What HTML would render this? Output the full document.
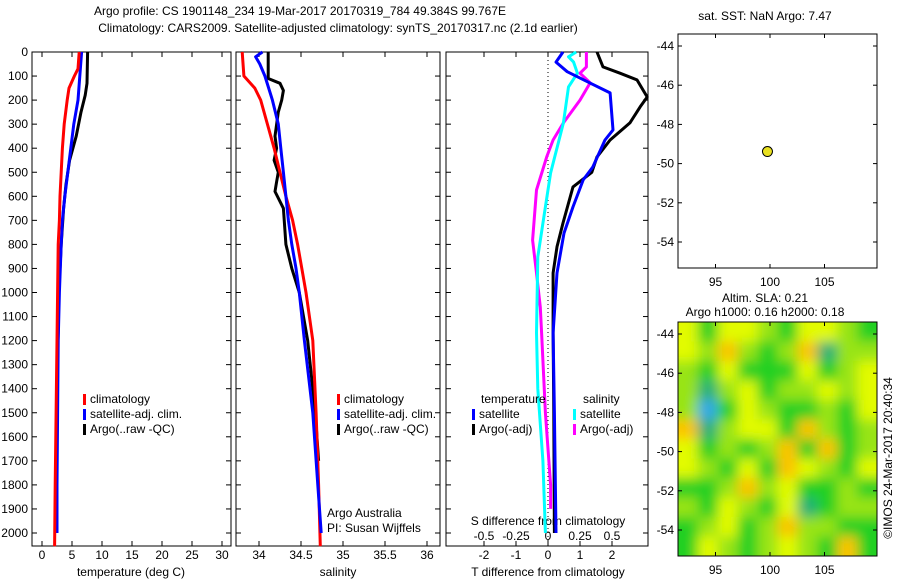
<!DOCTYPE html>
<html><head><meta charset="utf-8">
<style>
html,body{margin:0;padding:0;background:#fff;}
svg{display:block;font-family:"Liberation Sans",sans-serif;}
text{font-size:12px;fill:#000;}
</style></head>
<body>
<svg id="c" width="900" height="580" viewBox="0 0 900 580" xmlns="http://www.w3.org/2000/svg">
<text x="300" y="15" text-anchor="middle">Argo profile: CS 1901148_234 19-Mar-2017 20170319_784 49.384S 99.767E</text>
<text x="338" y="32" text-anchor="middle">Climatology: CARS2009. Satellite-adjusted climatology: synTS_20170317.nc (2.1d earlier)</text>
<text x="765" y="20" text-anchor="middle">sat. SST: NaN Argo: 7.47</text>
<text x="765" y="302" text-anchor="middle">Altim. SLA: 0.21</text>
<text x="765" y="316" text-anchor="middle">Argo h1000: 0.16 h2000: 0.18</text>
<text transform="translate(892,458) rotate(-90)" text-anchor="middle">©IMOS 24-Mar-2017 20:40:34</text>
<g id="g"></g>
</svg>
<script>
// ---------- data ----------
const depthTicks=[0,100,200,300,400,500,600,700,800,900,1000,1100,1200,1300,1400,1500,1600,1700,1800,1900,2000];
const tempTicks=[0,5,10,15,20,25,30];
const salTicks=[34,34.5,35,35.5,36];
const tdiffTicks=[-2,-1,0,1,2];
const sdiffTicks=[-0.5,-0.25,0,0.25,0.5];
const sdiffTickLabels=["-0.5","-0.25","0","0.25","0.5"];
const lonTicks=[95,100,105];
const latTicks=[-44,-46,-48,-50,-52,-54];

const tClimDepth=[0,70,100,150,200,300,400,500,600,700,800,1000,1200,1400,1600,1800,2055];
const tClim=[6.2,6.0,5.4,4.5,4.2,3.7,3.4,3.2,3.0,2.9,2.7,2.6,2.5,2.4,2.3,2.2,2.1];
const tSatDepth=[0,200,300,400,500,600,700,800,1000,1200,1500,1800,2000];
const tSat=[6.6,6.0,5.3,4.8,4.3,3.8,3.4,3.2,2.9,2.7,2.6,2.5,2.5];
const tArgoDepth=[0,130,180,250,350,450,550,650,800,1000,1300,1600,2000];
const tArgo=[7.6,7.5,7.2,6.5,5.7,4.6,4.0,3.6,3.2,2.8,2.6,2.4,2.3];

const sClimDepth=[0,100,150,200,300,400,500,600,700,800,900,1000,1200,1500,1800,2055];
const sClim=[33.80,33.82,33.95,34.02,34.10,34.18,34.25,34.32,34.40,34.46,34.51,34.56,34.64,34.68,34.71,34.73];
const sSatDepth=[0,20,50,100,200,300,400,500,600,700,800,900,1000,1200,1500,1800,2000];
const sSat=[34.04,33.96,34.01,34.07,34.16,34.23,34.26,34.29,34.32,34.35,34.39,34.44,34.48,34.54,34.64,34.70,34.74];
const sArgoDepth=[0,110,130,160,200,250,350,400,450,500,540,580,650,800,900,1000,1200,1500,1700];
const sArgo=[34.11,34.11,34.25,34.29,34.27,34.23,34.19,34.21,34.18,34.23,34.21,34.19,34.29,34.32,34.39,34.48,34.58,34.67,34.71];

const dtSatDepth=[0,42,82,128,170,324,366,478,532,644,753,919,1168,1500,2000];
const dtSat=[0.47,0.25,0.6,1.3,1.94,2.03,1.78,1.4,1.1,0.78,0.5,0.28,0.16,0.2,0.25];
const dtArgoDepth=[0,62,88,116,187,228,295,366,436,500,561,711,810,919,1168,1500,2000];
const dtArgo=[1.53,1.72,2.25,2.78,3.1,2.88,2.56,1.94,1.53,1.37,0.78,0.47,0.28,0.16,0.16,0.18,0.2];
const dsSatDepth=[0,20,42,88,145,295,503,644,852,1168,1400,1700,2000];
const dsSat=[0.22,0.16,0.2,0.23,0.16,0.12,0.02,-0.02,-0.08,-0.09,-0.08,-0.04,-0.02];
const dsArgoDepth=[0,62,88,128,200,295,366,436,574,782,919,1061,1168,1500,1800,1900];
const dsArgo=[0.3,0.3,0.25,0.33,0.25,0.12,0.04,-0.01,-0.09,-0.12,-0.09,-0.06,-0.05,-0.02,0.02,0.02];

const argoLon=[99.767];
const argoLat=[-49.384];
// SLA map coarse field (0=blue ... 5=orange), rows north->south
const slaGrid=[
[4,2,4,4,3,2,4,4,3,2],
[4,3,5,3,2,3,5,1,3,3],
[3,2,4,2,2,2,4,2,3,4],
[3,1,3,4,2,3,3,4,3,4],
[3,0,2,4,3,2,2,3,2,4],
[5,1,3,4,4,2,5,3,2,3],
[4,2,3,2,3,5,2,5,2,3],
[4,3,2,4,2,5,4,3,2,4],
[2,2,3,5,3,4,2,2,3,2],
[3,2,4,3,2,4,1,2,3,3],
[2,3,4,2,3,5,3,3,2,2],
[2,4,3,2,3,4,3,2,5,2]];
const slaColors=["#30a8e8","#20b078","#22d022","#98e412","#e2fb00","#fcc400"];

// ---------- drawing ----------
const NS="http://www.w3.org/2000/svg";
const G=document.getElementById('g');
function mk(tag,attrs,parent){const e=document.createElementNS(NS,tag);for(const k in attrs)e.setAttribute(k,attrs[k]);(parent||G).appendChild(e);return e;}
const yD=d=>52+d*0.2405;
const TOP=52,BOT=546;
const panels=[
 {name:'temperature-panel',l:32,r:231,x:v=>42+v*6},
 {name:'salinity-panel',l:236,r:440,x:v=>259+(v-34)*84},
 {name:'difference-panel',l:446,r:648,x:v=>548+v*32}
];
const xS=v=>548+v*128;

panels.forEach((p,i)=>{
 const b=mk('rect',{x:p.l,y:TOP,width:p.r-p.l,height:BOT-TOP,fill:'none',stroke:'#000','stroke-width':1});
 
 
 depthTicks.forEach(d=>{
  const y=yD(d);
  mk('line',{x1:p.l,x2:p.l+5,y1:y,y2:y,stroke:'#000'});
  mk('line',{x1:p.r-5,x2:p.r,y1:y,y2:y,stroke:'#000'});
  if(i===0){const t=mk('text',{x:28,y:y+4,'text-anchor':'end'});t.textContent=d;
   
   }
 });
});
function xticks(p,ticks,labels,ly){
 ticks.forEach((v,j)=>{const x=p.x(v);
  mk('line',{x1:x,x2:x,y1:TOP,y2:TOP+5,stroke:'#000'});
  mk('line',{x1:x,x2:x,y1:BOT-5,y2:BOT,stroke:'#000'});
  const t=mk('text',{x:x,y:ly,'text-anchor':'middle'});t.textContent=labels[j];
  
  
 });
}
xticks(panels[0],tempTicks,tempTicks,559);
xticks(panels[1],salTicks,salTicks.map(String),559);
xticks(panels[2],tdiffTicks,tdiffTicks,559);
sdiffTicks.forEach((v,j)=>{const t=mk('text',{x:xS(v),y:540,'text-anchor':'middle'});t.textContent=sdiffTickLabels[j];
 
 });
[[131,'temperature (deg C)','x-axis-title-temperature'],[338,'salinity','x-axis-title-salinity'],[548,'T difference from climatology','x-axis-title-t-diff'],[548,'S difference from climatology','x-axis-title-s-diff']].forEach((a,k)=>{
 const t=mk('text',{x:a[0],y:k===3?525:576,'text-anchor':'middle'});t.textContent=a[1];
 
 
});
mk('line',{x1:548,x2:548,y1:TOP,y2:BOT,stroke:'#000','stroke-dasharray':'1,3'});

function series(depths,vals,xf,color,name,w){
 const pts=depths.map((d,k)=>xf(vals[k]).toFixed(1)+','+yD(d).toFixed(1)).join(' ');
 const pl=mk('polyline',{points:pts,fill:'none',stroke:color,'stroke-width':w||3,'stroke-linejoin':'round'});
 
 
}
series(tArgoDepth,tArgo,panels[0].x,'#000','temp-argo-line');
series(tSatDepth,tSat,panels[0].x,'#00f','temp-satellite-line');
series(tClimDepth,tClim,panels[0].x,'#f00','temp-climatology-line');
series(sArgoDepth,sArgo,panels[1].x,'#000','sal-argo-line');
series(sClimDepth,sClim,panels[1].x,'#f00','sal-climatology-line');
series(sSatDepth,sSat,panels[1].x,'#00f','sal-satellite-line');
series(dsArgoDepth,dsArgo,xS,'#f0f','s-diff-argo-line');
series(dsSatDepth,dsSat,xS,'#0ff','s-diff-satellite-line');
series(dtArgoDepth,dtArgo,panels[2].x,'#000','t-diff-argo-line');
series(dtSatDepth,dtSat,panels[2].x,'#00f','t-diff-satellite-line');

function legend(x,y,items,name){
 items.forEach((it,k)=>{
  const yy=y+k*15;
  const r=mk('rect',{x:x,y:yy-9,width:3,height:11,fill:it[0]});
  
  
  const t=mk('text',{x:x+7,y:yy});t.textContent=it[1];
  
  
 });
}
legend(83,403,[['#f00','climatology'],['#00f','satellite-adj. clim.'],['#000','Argo(..raw -QC)']],'temp-legend');
legend(337,403,[['#f00','climatology'],['#00f','satellite-adj. clim.'],['#000','Argo(..raw -QC)']],'sal-legend');
legend(472,418,[['#00f','satellite'],['#000','Argo(-adj)']],'t-diff-legend');
legend(573,418,[['#0ff','satellite'],['#f0f','Argo(-adj)']],'s-diff-legend');
[[481,403,'temperature'],[583,403,'salinity'],[327,517,'Argo Australia'],[327,532,'PI: Susan Wijffels']].forEach(a=>{
 const t=mk('text',{x:a[0],y:a[1]});t.textContent=a[2];
 
 
});

const lonX=v=>770+(v-100)*10.9;
function mapFrame(top,name){
 const latY=v=>top+12+(-44-v)*19.6;
 if(top>300){
  const defs=mk('defs',{});
  const cp=mk('clipPath',{id:'mc'},defs);mk('rect',{x:678,y:top,width:199,height:234},cp);
  const f=mk('filter',{id:'bl',x:'-10%',y:'-10%',width:'120%',height:'120%'},defs);
  mk('feGaussianBlur',{stdDeviation:'6'},f);
  const gg=mk('g',{'clip-path':'url(#mc)'});
  const inner=mk('g',{filter:'url(#bl)'},gg);
  const cw=199/10,ch=234/12;
  slaGrid.forEach((row,ri)=>row.forEach((v,ci)=>{
   const c=mk('rect',{x:678+ci*cw-(ci===0?12:0),y:top+ri*ch-(ri===0?12:0),width:cw+1+(ci===0||ci===9?12:0),height:ch+1+(ri===0||ri===11?12:0),fill:slaColors[v]},inner);
   
   
  }));
 }
 const b=mk('rect',{x:678,y:top,width:199,height:234,fill:'none',stroke:'#000'});
 
 
 lonTicks.forEach(v=>{const x=lonX(v);
  mk('line',{x1:x,x2:x,y1:top,y2:top+4,stroke:'#000'});
  mk('line',{x1:x,x2:x,y1:top+230,y2:top+234,stroke:'#000'});
  const t=mk('text',{x:x,y:top+252,'text-anchor':'middle'});t.textContent=v;
  
  });
 latTicks.forEach(v=>{const y=latY(v);
  mk('line',{x1:678,x2:682,y1:y,y2:y,stroke:'#000'});
  mk('line',{x1:873,x2:877,y1:y,y2:y,stroke:'#000'});
  const t=mk('text',{x:674,y:y+4,'text-anchor':'end'});t.textContent=v;
  
  });
 return latY;
}
const latY1=mapFrame(34,'sst-map-frame');
mapFrame(322,'sla-map-frame');
argoLon.forEach((lo,k)=>{
 const c=mk('circle',{cx:lonX(lo),cy:latY1(argoLat[k]),r:5,fill:'#e8e020',stroke:'#000','stroke-width':1});
 
 
});
</script>
</body></html>
